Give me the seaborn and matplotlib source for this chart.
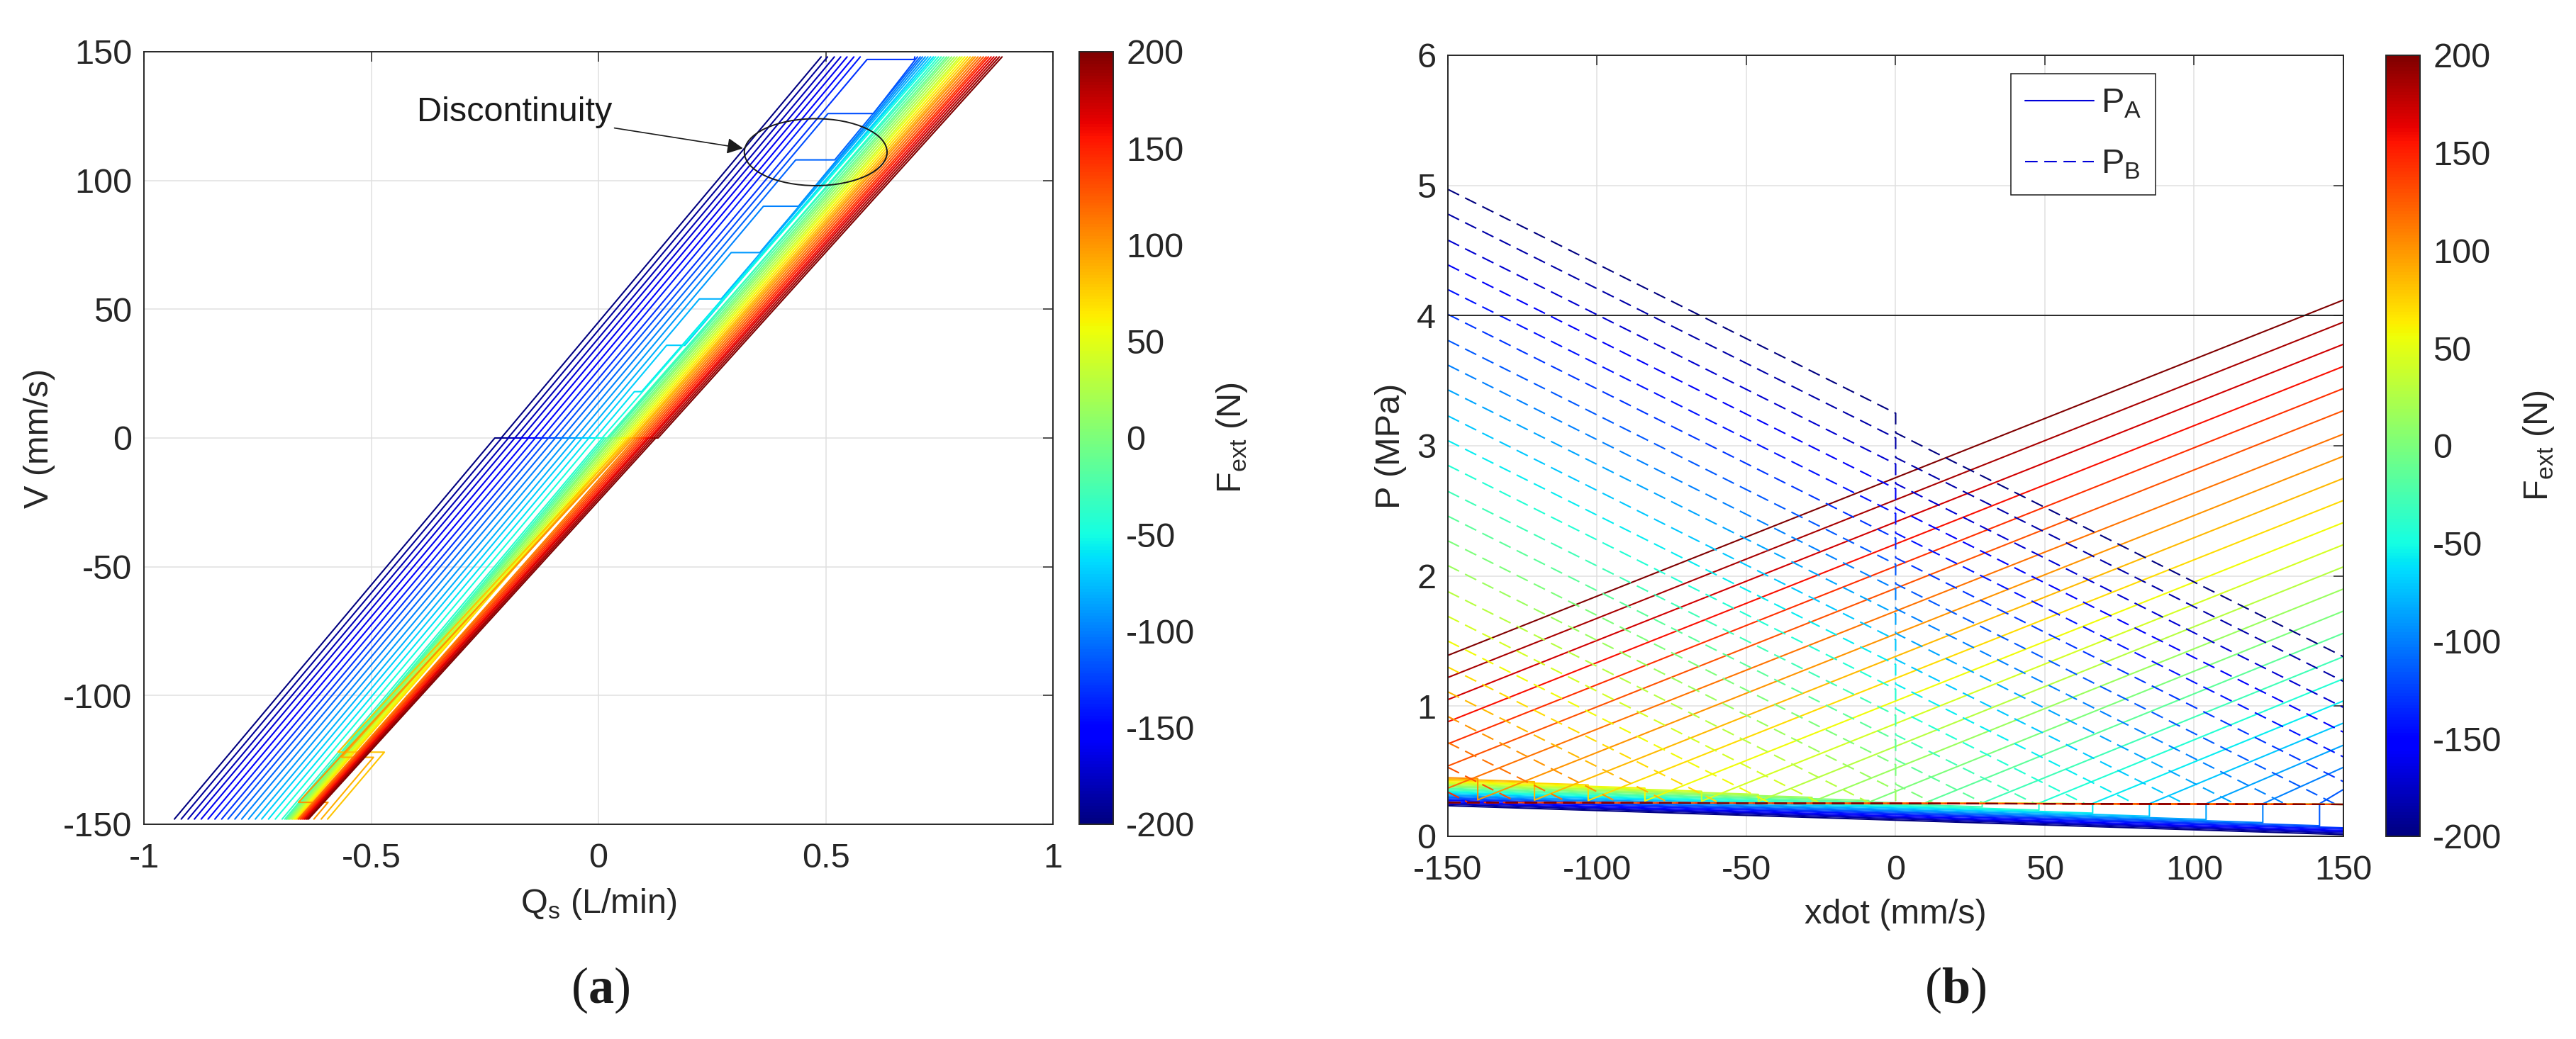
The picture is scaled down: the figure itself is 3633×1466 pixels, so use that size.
import numpy as np
import pandas as pd
import seaborn as sns
import matplotlib
matplotlib.use('Agg')
import matplotlib.pyplot as plt
from matplotlib.patches import Ellipse
from matplotlib.lines import Line2D
from matplotlib.cm import ScalarMappable
from matplotlib.colors import Normalize

nan = np.nan

# ---------------- (a) supply flow vs. velocity, one line per external force ----------------
F_LEFT = [-200, -190, -180, -170, -160, -150, -140, -130, -120, -110, -100, -90, -80, -70,
          -60, -50, -40, -30, -20, -10, 0, 10, 20, 30, 40, 50, 60, 70, 80, 90, 100, 110,
          120, 130, 140, 150, 160, 170, 180, 190, 200]
V_BOTTOM, V_ZERO, V_TOP = -148, 0, 148

# Qs (L/min) where each line starts at V = -148
QS_BOTTOM = [-0.933, -0.918, -0.903, -0.889, -0.874, -0.859, -0.844, -0.829, -0.815, -0.800,
             -0.785, -0.770, -0.755, -0.741, -0.726, -0.711, -0.696,
             -0.690, -0.687, -0.685, -0.682, -0.680, -0.677, -0.674, -0.672, -0.669, -0.667,
             -0.664, -0.596, -0.610, -0.626,
             -0.661, -0.659, -0.656, -0.654, -0.651, -0.648, -0.646, -0.643, -0.641, -0.638]
# sticking steps in the lower half (orange lines)
V_LOW_JUMP = [nan] * 28 + [-122, -124, -141.5] + [nan] * 10
QS_LOW_FROM = [nan] * 28 + [-0.471, -0.495, -0.595] + [nan] * 10
QS_LOW_TO = [nan] * 28 + [-0.573, -0.565, -0.660] + [nan] * 10
# Qs reached at V = 0 from below / leaving V = 0 upwards
QS_ZERO_LO = [-0.228, -0.213, -0.198, -0.184, -0.169, -0.154, -0.139, -0.124, -0.110, -0.095,
              -0.080, -0.065, -0.050, -0.036, -0.021, -0.006, 0.009,
              0.014, 0.019, 0.024, 0.029, 0.033, 0.038, 0.043, 0.048, 0.053, 0.058, 0.063,
              0.068, 0.072, 0.077, 0.082, 0.087, 0.092, 0.097, 0.102, 0.107, 0.111, 0.116,
              0.121, 0.126]
QS_ZERO_HI = [-0.214, -0.199, -0.184, -0.170, -0.155, -0.140, -0.125, -0.110, -0.096, -0.081,
              -0.066, -0.051, -0.036, -0.022, -0.007, 0.008, 0.023,
              0.019, 0.024, 0.029, 0.034, 0.038, 0.043, 0.048, 0.053, 0.058, 0.063, 0.068,
              0.073, 0.077, 0.082, 0.087, 0.092, 0.097, 0.102, 0.107, 0.112, 0.116, 0.121,
              0.126, 0.131]
# discontinuity jumps in the upper half
V_UP_JUMP = [nan] * 7 + [147, 126, 108, 90, 72, 54, 36, 18] + [nan] * 26
QS_UP_FROM = [nan] * 7 + [0.591, 0.505, 0.434, 0.363, 0.292, 0.222, 0.150, 0.079] + [nan] * 26
QS_UP_TO = [nan] * 7 + [0.695, 0.605, 0.520, 0.440, 0.355, 0.270, 0.190, 0.095] + [nan] * 26
# Qs at V = 148
QS_TOP = [0.490, 0.504, 0.519, 0.533, 0.547, 0.562, 0.576,
          0.696, 0.702, 0.708, 0.713, 0.719, 0.725, 0.731, 0.737, 0.742, 0.748, 0.754, 0.760,
          0.766, 0.771, 0.777, 0.783, 0.789, 0.795, 0.800, 0.806, 0.812, 0.818, 0.824, 0.829,
          0.835, 0.841, 0.847, 0.853, 0.858, 0.864, 0.870, 0.876, 0.882, 0.888]

# ---------------- (b) chamber pressures vs. velocity ----------------
F_RIGHT = [-200, -185.7, -171.4, -157.1, -142.9, -128.6, -114.3, -100, -85.7, -71.4, -57.1,
           -42.9, -28.6, -14.3, 0, 14.3, 28.6, 42.9, 57.1, 71.4, 85.7, 100, 114.3, 128.6,
           142.9, 157.1, 171.4, 185.7, 200]
XDOT_MIN, XDOT_MAX = -150, 150

# P_A (solid): start at xdot=-150, end of the low band, point where it rises, value at 150
PA_START = [0.235, 0.246, 0.256, 0.266, 0.277, 0.287,
            0.297, 0.307, 0.317, 0.328, 0.338, 0.348, 0.358, 0.368, 0.379, 0.389, 0.399,
            0.409, 0.419, 0.430, 0.440, 0.450,
            0.37, 0.54, 0.71, 0.88, 1.05, 1.22, 1.39]
PA_RISE_X = [150, 150, 150, 150, 150, 150,
             142, 123, 104, 85, 66, 48, 29, 10, -9, -28, -46, -65, -84, -103, -121, -140,
             -150, -150, -150, -150, -150, -150, -150]
PA_BAND_END = [0.013, 0.024, 0.034, 0.044, 0.055, 0.065,
               0.081, 0.105, 0.129, 0.154, 0.178, 0.201, 0.226, 0.250, 0.275, 0.299, 0.322,
               0.346, 0.370, 0.395, 0.419, 0.443,
               0.37, 0.54, 0.71, 0.88, 1.05, 1.22, 1.39]
PA_RISE_P = [0.013, 0.024, 0.034, 0.044, 0.055, 0.065,
             0.25, 0.25, 0.25, 0.25, 0.252, 0.254, 0.256, 0.258, 0.262, 0.265, 0.268, 0.27,
             0.272, 0.275, 0.278, 0.28,
             0.37, 0.54, 0.71, 0.88, 1.05, 1.22, 1.39]
PA_END = [0.013, 0.024, 0.034, 0.044, 0.055, 0.065,
          0.36, 0.53, 0.70, 0.87, 1.04, 1.21, 1.38, 1.56, 1.73, 1.90, 2.07, 2.24, 2.41, 2.58,
          2.75, 2.92,
          3.09, 3.27, 3.44, 3.61, 3.78, 3.95, 4.12]

# P_B (dashed): start, values either side of xdot=0, where it meets the tank floor, end
PB_START = [4.97, 4.78, 4.58, 4.39, 4.20, 4.01, 3.81, 3.62, 3.43, 3.23, 3.04, 2.85, 2.65,
            2.46, 2.27, 2.08, 1.88, 1.69, 1.50, 1.30, 1.11, 0.92, 0.72, 0.53, 0.34,
            0.26, 0.26, 0.26, 0.26]
PB_ZERO_LO = [3.25, 3.06, 2.86, 2.67, 2.48, 2.29, 2.09, 1.90, 1.71, 1.51, 1.32, 1.13, 0.93,
              0.74, 0.55, 0.355] + [nan] * 13
PB_ZERO_HI = [3.10, 2.91, 2.71, 2.52, 2.33, 2.14, 1.94, 1.75, 1.56, 1.36, 1.17, 0.98, 0.78,
              0.59, 0.40, 0.255] + [nan] * 13
PB_HIT_X = [nan] * 6 + [147.5, 130.7, 113.9, 97, 80.2, 63.4, 46.6, 29.7, 12.9, nan,
                        -8.6, -25.4, -42.2, -59.1, -75.9, -92.7, -109.5, -126.4, -143.2,
                        -150, -150, -150, -150]
PB_HIT_P = [nan] * 6 + [0.245, 0.246, 0.247, 0.248, 0.249, 0.250, 0.251, 0.252, 0.253, nan,
                        0.255, 0.256, 0.257, 0.257, 0.258, 0.258, 0.259, 0.259, 0.26,
                        0.26, 0.26, 0.26, 0.26]
PB_END = [1.38, 1.19, 0.99, 0.80, 0.61, 0.42] + [0.245] * 23

P_SUPPLY = 4.0

TEXT_C = (0.15, 0.15, 0.15)
FS = 35
LW = 1.5
JET = matplotlib.colormaps['jet']


def leftLines():
    rows = []
    for k, f in enumerate(F_LEFT):
        pts = [(QS_BOTTOM[k], V_BOTTOM)]
        if not np.isnan(V_LOW_JUMP[k]):
            pts += [(QS_LOW_FROM[k], V_LOW_JUMP[k]), (QS_LOW_TO[k], V_LOW_JUMP[k])]
        pts += [(QS_ZERO_LO[k], V_ZERO), (QS_ZERO_HI[k], V_ZERO)]
        if not np.isnan(V_UP_JUMP[k]):
            pts += [(QS_UP_FROM[k], V_UP_JUMP[k]), (QS_UP_TO[k], V_UP_JUMP[k])]
        pts += [(QS_TOP[k], V_TOP)]
        for q, v in pts:
            rows.append((k, f, q, v))
    return pd.DataFrame(rows, columns=['line', 'F', 'Qs', 'V'])


def pressureLines():
    rows_a, rows_b = [], []
    for i, f in enumerate(F_RIGHT):
        pts = [(XDOT_MIN, PA_START[i]), (PA_RISE_X[i], PA_BAND_END[i]),
               (PA_RISE_X[i], PA_RISE_P[i]), (XDOT_MAX, PA_END[i])]
        for x, p in pts:
            rows_a.append((i, f, x, p))
        pts = [(XDOT_MIN, PB_START[i])]
        if not np.isnan(PB_ZERO_LO[i]):
            pts += [(0, PB_ZERO_LO[i]), (0, PB_ZERO_HI[i])]
        if not np.isnan(PB_HIT_X[i]):
            pts += [(PB_HIT_X[i], PB_HIT_P[i])]
        pts += [(XDOT_MAX, PB_END[i])]
        for x, p in pts:
            rows_b.append((i, f, x, p))
    cols = ['line', 'F', 'xdot', 'P']
    return pd.DataFrame(rows_a, columns=cols), pd.DataFrame(rows_b, columns=cols)


def styleAxes(ax):
    ax.set_axisbelow(True)
    ax.grid(True, color=(0.88, 0.88, 0.88), lw=1.1)
    for s in ax.spines.values():
        s.set_linewidth(1.4)
        s.set_color(TEXT_C)
        s.set_visible(True)
    ax.tick_params(direction='in', length=10, width=1.1, top=True, right=True,
                   labelsize=FS, colors=TEXT_C)
    ax.tick_params(axis='x', pad=19)
    ax.tick_params(axis='y', pad=12)


def addColorbar(fig, rect, norm):
    cax = fig.add_axes(rect)
    cb = fig.colorbar(ScalarMappable(norm=norm, cmap=JET), cax=cax)
    cb.set_ticks(np.arange(-200, 201, 50))
    cb.outline.set_linewidth(1.4)
    cb.outline.set_edgecolor(TEXT_C)
    cax.tick_params(direction='in', length=8.5, width=1.1, labelsize=FS, colors=TEXT_C, pad=13)
    cb.set_label(r'F$_\mathregular{ext}$ (N)', fontsize=FS, color=TEXT_C, labelpad=20)
    return cb


sns.set_theme(style='white')
plt.rcParams['font.family'] = ['Liberation Sans', 'DejaVu Sans']
plt.rcParams['axes.unicode_minus'] = False
plt.rcParams['mathtext.fontset'] = 'custom'
plt.rcParams['mathtext.rm'] = 'Liberation Sans'
plt.rcParams['mathtext.bf'] = 'Liberation Serif:bold'
plt.rcParams['lines.dashed_pattern'] = [8.5, 4.5]

fig = plt.figure(figsize=(36.33, 14.66), dpi=100)
norm = Normalize(-200, 200)

# ---- panel (a)
ax1 = fig.add_axes([0.05588, 0.20669, 0.35288, 0.74352])
df_left = leftLines()
sns.lineplot(data=df_left, x='Qs', y='V', hue='F', units='line', estimator=None, sort=False,
             palette=JET, hue_norm=(-200, 200), legend=False, lw=LW, ax=ax1)
ax1.add_patch(Ellipse((0.478, 111), 0.314, 26, fill=False, ec='k', lw=1.4, zorder=5))
ax1.annotate('Discontinuity', xy=(0.318, 112.5), xytext=(0.03, 126.5), ha='right', va='center',
             fontsize=FS, color='k',
             arrowprops=dict(arrowstyle='-|>', color='k', lw=1.2, mutation_scale=34,
                             shrinkA=0, shrinkB=0))
ax1.set_xlim(-1, 1)
ax1.set_ylim(-150, 150)
ax1.set_xticks([-1, -0.5, 0, 0.5, 1])
ax1.set_xticklabels(['-1', '-0.5', '0', '0.5', '1'])
ax1.set_yticks(np.arange(-150, 151, 50))
ax1.set_yticklabels([str(v) for v in range(-150, 151, 50)])
styleAxes(ax1)
ax1.set_xlabel(r'Q$_\mathregular{s}$ (L/min)', fontsize=FS, color=TEXT_C, labelpad=12)
ax1.set_ylabel('V (mm/s)', fontsize=FS, color=TEXT_C, labelpad=8)
addColorbar(fig, [0.41894, 0.20669, 0.01321, 0.74352], norm)

# ---- panel (b)
ax2 = fig.add_axes([0.56207, 0.19509, 0.34764, 0.75171])
df_pa, df_pb = pressureLines()
sns.lineplot(data=df_pa, x='xdot', y='P', hue='F', units='line', estimator=None, sort=False,
             palette=JET, hue_norm=(-200, 200), legend=False, lw=LW, ax=ax2)
sns.lineplot(data=df_pb, x='xdot', y='P', hue='F', units='line', estimator=None, sort=False,
             palette=JET, hue_norm=(-200, 200), legend=False, lw=LW, linestyle='--', ax=ax2)
ax2.axhline(P_SUPPLY, color='k', lw=1.3)
ax2.set_xlim(-150, 150)
ax2.set_ylim(0, 6)
ax2.set_xticks(np.arange(-150, 151, 50))
ax2.set_xticklabels([str(v) for v in range(-150, 151, 50)])
ax2.set_yticks(range(0, 7))
styleAxes(ax2)
ax2.set_xlabel('xdot (mm/s)', fontsize=FS, color=TEXT_C, labelpad=12)
ax2.set_ylabel('P (MPa)', fontsize=FS, color=TEXT_C, labelpad=10)
leg_c = JET(0.08)
handles = [Line2D([], [], color=leg_c, lw=LW, ls='-'),
           Line2D([], [], color=leg_c, lw=LW, ls='--')]
leg = ax2.legend(handles, [r'P$_\mathregular{A}$', r'P$_\mathregular{B}$'], loc='upper left',
                 bbox_to_anchor=(0.629, 0.976), fontsize=FS, frameon=True, fancybox=False,
                 framealpha=1, edgecolor='k', handlelength=2.0, handletextpad=0.2,
                 borderpad=0.4, labelspacing=0.85, borderaxespad=0)
leg.get_frame().set_linewidth(1.1)
addColorbar(fig, [0.92623, 0.19509, 0.01321, 0.75171], norm)

# panel letters
fig.text(0.2329, 0.0471, r'($\mathbf{a}$)', fontsize=52, ha='center', va='center',
         family='Liberation Serif', color='k')
fig.text(0.7589, 0.0471, r'($\mathbf{b}$)', fontsize=52, ha='center', va='center',
         family='Liberation Serif', color='k')

fig.savefig('out.png', dpi=100)
